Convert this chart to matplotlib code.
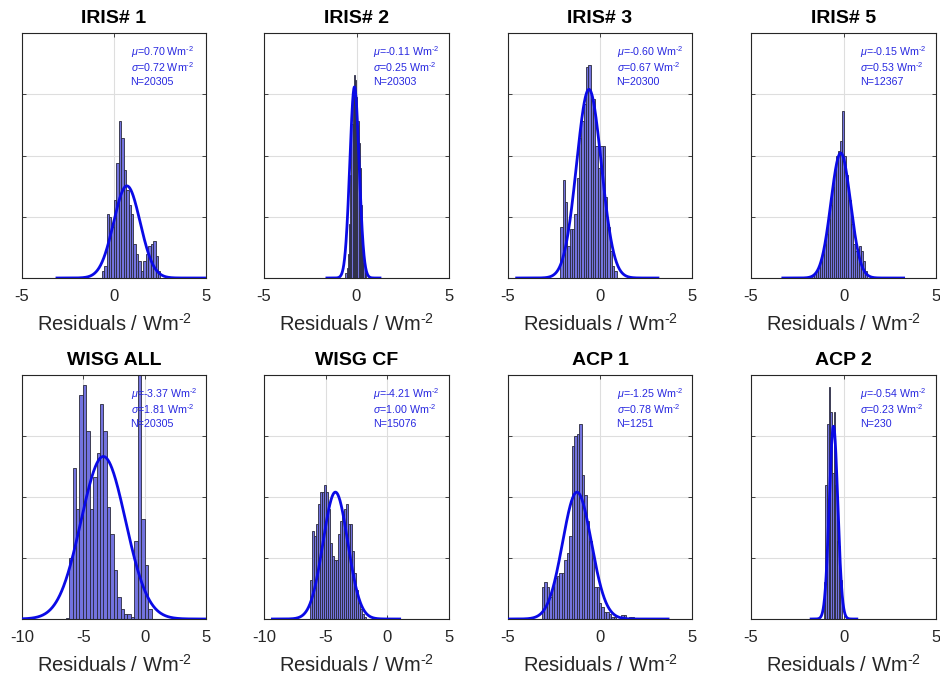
import numpy as np
import matplotlib
matplotlib.use('Agg')
import matplotlib.pyplot as plt

plt.rcParams['font.family'] = ['Liberation Sans', 'DejaVu Sans']
plt.rcParams['mathtext.fontset'] = 'custom'
plt.rcParams['mathtext.rm'] = 'Liberation Sans'
plt.rcParams['mathtext.it'] = 'Liberation Sans:italic'
plt.rcParams['axes.unicode_minus'] = False

# Panel info
titles = ['IRIS# 1', 'IRIS# 2', 'IRIS# 3', 'IRIS# 5',
          'WISG ALL', 'WISG CF', 'ACP 1', 'ACP 2']
mus = [0.70, -0.11, -0.60, -0.15, -3.37, -4.21, -1.25, -0.54]
sigmas = [0.72, 0.25, 0.67, 0.53, 1.81, 1.00, 0.78, 0.23]
counts = [20305, 20303, 20300, 12367, 20305, 15076, 1251, 230]
xlims = [(-5, 5), (-5, 5), (-5, 5), (-5, 5),
         (-10, 5), (-10, 5), (-5, 5), (-5, 5)]

# Histogram bins (first edge, width) and bar heights (fraction of axis height)
bin_starts = [-0.67, -0.60, -2.15, -1.71, -6.44, -6.24, -3.16, -1.07]
bin_widths = [0.133, 0.065, 0.127, 0.11, 0.28, 0.162, 0.135, 0.09]

h_iris1 = [0.03, 0.05, 0.26, 0.25, 0.21, 0.32, 0.47, 0.64, 0.57, 0.44, 0.36, 0.30,
           0.26, 0.14, 0.10, 0.07, 0.03, 0.07, 0.10, 0.13, 0.14, 0.15, 0.09, 0.03]
h_iris2 = [0.02, 0.04, 0.10, 0.22, 0.42, 0.63, 0.78, 0.83, 0.81, 0.74, 0.64, 0.55,
           0.45, 0.30, 0.15, 0.06, 0.02]
h_iris3 = [0.21, 0.40, 0.31, 0.13, 0.20, 0.20, 0.26, 0.41, 0.57, 0.64, 0.71, 0.86,
           0.87, 0.73, 0.73, 0.54, 0.45, 0.54, 0.54, 0.33, 0.21, 0.11, 0.05, 0.03]
h_iris5 = [0.01, 0.02, 0.03, 0.05, 0.07, 0.10, 0.14, 0.18, 0.24, 0.30, 0.37, 0.44,
           0.50, 0.52, 0.56, 0.68, 0.50, 0.42, 0.32, 0.22, 0.14, 0.11, 0.12, 0.13,
           0.11, 0.07, 0.03]
h_wisg_all = [0.005, 0.25, 0.62, 0.45, 0.92, 0.96, 0.77, 0.45, 0.58, 0.68, 0.88,
              0.77, 0.46, 0.35, 0.20, 0.09, 0.04, 0.02, 0.02, 0.01, 0.32, 1.0,
              0.41, 0.22, 0.04]
h_wisg_cf = [0.16, 0.36, 0.34, 0.39, 0.47, 0.52, 0.52, 0.55, 0.52, 0.45, 0.31, 0.26,
             0.24, 0.24, 0.35, 0.40, 0.43, 0.45, 0.47, 0.39, 0.39, 0.28, 0.19, 0.12,
             0.065, 0.04, 0.02, 0.01]
h_acp1 = [0.13, 0.15, 0.13, 0.09, 0.13, 0.17, 0.175, 0.19, 0.19, 0.24, 0.27, 0.34,
          0.71, 0.75, 0.76, 0.80, 0.59, 0.51, 0.40, 0.32, 0.25, 0.13, 0.13, 0.065,
          0.05, 0.03, 0.03, 0.02, 0.01, 0.01, 0.0, 0.0, 0.018, 0.018, 0.0, 0.01,
          0.01, 0.0, 0.005, 0.005]
h_acp2 = [0.15, 0.55, 0.80, 0.95, 0.85, 0.60, 0.85, 0.55, 0.32, 0.30, 0.16]
heights = [h_iris1, h_iris2, h_iris3, h_iris5, h_wisg_all, h_wisg_cf, h_acp1, h_acp2]

# Gaussian fit: peak height (fraction of axis) and the x range it is drawn over
fit_peaks = [0.376, 0.78, 0.77, 0.51, 0.666, 0.52, 0.52, 0.79]
fit_ranges = [(-3.1, 5.0), (-1.6, 1.27), (-4.53, 3.15), (-3.28, 3.25),
              (-10.0, 5.0), (-9.32, 1.0), (-5.0, 3.7), (-1.75, 0.72)]

# axes boxes in pixels (left, right) and (top, bottom) of a 940x680 figure
cols = [(22, 206), (264, 449), (508, 692), (751, 936)]
rows = [(33, 278), (375, 619)]

fig = plt.figure(figsize=(9.4, 6.8), dpi=100)
edge_gray = '#262626'
txt_blue = '#2828e0'

for i in range(8):
    r, c = divmod(i, 4)
    x0, x1 = cols[c]
    y0, y1 = rows[r]
    ax = fig.add_axes([x0 / 940, (680 - y1) / 680, (x1 - x0) / 940, (y1 - y0) / 680])

    h = heights[i]
    lefts = bin_starts[i] + bin_widths[i] * np.arange(len(h))
    ax.bar(lefts, h, width=bin_widths[i], align='edge',
           facecolor=(0.45, 0.45, 0.87), edgecolor='#2a2a3c', linewidth=0.6, zorder=2)

    xs = np.linspace(fit_ranges[i][0], fit_ranges[i][1], 400)
    ys = fit_peaks[i] * np.exp(-(xs - mus[i]) ** 2 / (2 * sigmas[i] ** 2))
    ax.plot(xs, ys, color='#0a0ae6', linewidth=2.0, zorder=3)

    ax.set_xlim(*xlims[i])
    ax.set_ylim(0, 1)
    ax.set_xticks(np.arange(xlims[i][0], xlims[i][1] + 1, 5))
    ax.set_yticks([0, 0.25, 0.5, 0.75, 1.0])
    ax.set_yticklabels([])
    ax.grid(True, color='#dedede', linewidth=0.8, zorder=0)
    ax.set_axisbelow(True)
    ax.tick_params(direction='in', length=3, width=0.6, colors=edge_gray,
                   top=True, right=True, labelsize=12, pad=8)
    for sp in ax.spines.values():
        sp.set_color(edge_gray)
        sp.set_linewidth(0.8)

    ax.set_title(titles[i], fontsize=14, fontweight='bold', pad=7)
    ax.set_xlabel(r'Residuals / Wm$^{\text{-2}}$', fontsize=14.5, color=edge_gray,
                  labelpad=6)

    ax.text(0.59, 0.906, r'$\mu$=%.2f Wm$^{\text{-2}}$' % mus[i],
            transform=ax.transAxes, fontsize=7.7, color=txt_blue, zorder=4)
    ax.text(0.59, 0.842, r'$\sigma$=%.2f Wm$^{\text{-2}}$' % sigmas[i],
            transform=ax.transAxes, fontsize=7.7, color=txt_blue, zorder=4)
    ax.text(0.59, 0.788, 'N=%d' % counts[i],
            transform=ax.transAxes, fontsize=7.7, color=txt_blue, zorder=4)

fig.savefig('out.png', dpi=100)
